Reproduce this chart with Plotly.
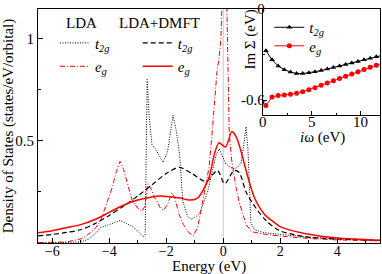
import plotly.graph_objects as go

# ---- main panel data: density of states ----
E_lda_t2g = [-6.5, -5.0, -4.7, -4.5, -4.3, -4.0, -3.8, -3.62, -3.4, -3.16, -2.95, -2.8, -2.74, -2.71, -2.67,
             -2.6, -2.5, -2.4, -2.29, -2.11, -1.95, -1.85, -1.76, -1.65, -1.53, -1.42, -1.25, -1.12, -0.95,
             -0.83, -0.7, -0.55, -0.37, -0.25, -0.14, -0.02, 0.09, 0.25, 0.38, 0.5, 0.62, 0.72, 0.8, 0.87,
             0.92, 0.97, 1.1, 1.4, 1.72, 2.3, 2.88, 4.0, 5.5]
dos_lda_t2g = [0.0, 0.005, 0.02, 0.045, 0.075, 0.09, 0.10, 0.11, 0.095, 0.08, 0.05, 0.03, 0.04, 0.3, 0.8,
               0.62, 0.48, 0.465, 0.44, 0.395, 0.45, 0.55, 0.625, 0.55, 0.43, 0.205, 0.13, 0.117, 0.13,
               0.145, 0.19, 0.25, 0.36, 0.43, 0.46, 0.42, 0.387, 0.37, 0.363, 0.37, 0.39, 0.48, 0.57, 0.45,
               0.24, 0.10, 0.065, 0.052, 0.046, 0.037, 0.03, 0.02, 0.012]

E_lda_eg = [-6.5, -5.5, -5.0, -4.8, -4.5, -4.3, -4.1, -3.9, -3.75, -3.62, -3.5, -3.38, -3.2, -3.0, -2.85,
            -2.75, -2.65, -2.55, -2.4, -2.2, -2.1, -1.95, -1.8, -1.7, -1.55, -1.4, -1.2, -1.05, -0.9, -0.75,
            -0.6, -0.5, -0.4, -0.3, -0.22, -0.15, -0.08, -0.02, 0.05, 0.12, 0.17, 0.21, 0.3, 0.45, 0.56,
            0.7, 0.8, 1.0, 1.5, 2.0, 3.0, 4.0, 5.5]
dos_lda_eg = [0.002, 0.005, 0.02, 0.035, 0.07, 0.11, 0.19, 0.27, 0.35, 0.40, 0.36, 0.30, 0.21, 0.17, 0.155,
              0.18, 0.29, 0.27, 0.22, 0.17, 0.16, 0.19, 0.245, 0.22, 0.14, 0.09, 0.05, 0.035, 0.075, 0.18,
              0.29, 0.37, 0.52, 0.68, 0.84, 0.9, 1.0, 1.3, 1.5, 1.2, 0.8, 0.54, 0.40, 0.27, 0.20,
              0.13, 0.09, 0.055, 0.042, 0.034, 0.022, 0.015, 0.01]

E_dmft_t2g = [-6.5, -6.0, -5.5, -5.0, -4.5, -4.0, -3.5, -3.0, -2.5, -2.0, -1.55, -1.1, -0.6, -0.4, -0.2,
              0.05, 0.38, 0.56, 0.8, 1.15, 1.5, 1.95, 2.9, 4.0, 5.5]
dos_dmft_t2g = [0.035, 0.042, 0.052, 0.065, 0.095, 0.135, 0.18, 0.23, 0.285, 0.34, 0.37, 0.34, 0.30, 0.33,
                0.355, 0.29, 0.355, 0.345, 0.25, 0.17, 0.11, 0.062, 0.03, 0.02, 0.013]

E_dmft_eg = [-6.5, -6.0, -5.5, -5.0, -4.5, -4.0, -3.5, -3.0, -2.5, -2.2, -1.8, -1.5, -1.2, -0.9, -0.7, -0.5,
             -0.3, -0.15, 0.08, 0.3, 0.45, 0.6, 0.85, 1.1, 1.45, 1.75, 2.0, 2.9, 4.0, 5.5]
dos_dmft_eg = [0.05, 0.06, 0.075, 0.09, 0.115, 0.15, 0.185, 0.21, 0.225, 0.23, 0.225, 0.22, 0.21, 0.22, 0.26,
               0.32, 0.44, 0.49, 0.47, 0.545, 0.52, 0.46, 0.33, 0.22, 0.14, 0.105, 0.08, 0.045, 0.025, 0.014]

# ---- inset data: Im Sigma on Matsubara axis ----
iw = [0.314, 0.942, 1.571, 2.199, 2.827, 3.456, 4.084, 4.712, 5.341, 5.969, 6.597, 7.226, 7.854, 8.482,
      9.111, 9.739, 10.367, 10.996, 11.624, 12.252]
sig_t2g = [-0.275, -0.335, -0.375, -0.40, -0.415, -0.425, -0.425, -0.42, -0.413, -0.405, -0.395, -0.385,
           -0.375, -0.365, -0.355, -0.345, -0.335, -0.325, -0.315, -0.305]
sig_eg = [-0.635, -0.58, -0.57, -0.566, -0.562, -0.555, -0.545, -0.532, -0.518, -0.503, -0.488, -0.473,
          -0.458, -0.443, -0.428, -0.413, -0.398, -0.383, -0.37, -0.357]

xticks_main = [-6, -4, -2, 0, 2, 4]
yticks_main = [0, 0.5, 1]
yticklabels_main = ["", "0.5", "1"]

FONT = "Liberation Serif"
RED = "#ff0000"

# plot-area geometry (pixels) used to place titles and legends
L, R, T, B = 38, 1, 3, 31
W_PLOT = 382 - L - R
H_PLOT = 274 - T - B


def px_x(px):
    return (px - L) / W_PLOT


def px_y(py):
    return (274 - B - py) / H_PLOT


fig = go.Figure()

# Fermi level line
fig.add_shape(type="line", x0=0, x1=0, y0=0, y1=1, xref="x", yref="paper",
              line=dict(color="#c8c8c8", width=1), layer="below")

T2G = "<i>t<sub>2g</sub></i>"
EG = "<i>e<sub>g</sub></i>"

fig.add_trace(go.Scatter(x=E_lda_t2g, y=dos_lda_t2g, mode="lines", name=T2G,
                         line=dict(color="black", width=1, dash="1px,1.5px"), legend="legend"))
fig.add_trace(go.Scatter(x=E_lda_eg, y=dos_lda_eg, mode="lines", name=EG,
                         line=dict(color=RED, width=1, dash="5px,2px,1px,2px"), legend="legend2"))
fig.add_trace(go.Scatter(x=E_dmft_t2g, y=dos_dmft_t2g, mode="lines", name=T2G,
                         line=dict(color="black", width=1.2, dash="5px,3px", shape="spline", smoothing=0.8),
                         legend="legend3"))
fig.add_trace(go.Scatter(x=E_dmft_eg, y=dos_dmft_eg, mode="lines", name=EG,
                         line=dict(color=RED, width=1.5, shape="spline", smoothing=0.8), legend="legend4"))

fig.add_trace(go.Scatter(x=iw, y=sig_t2g, mode="lines+markers", name=T2G,
                         xaxis="x2", yaxis="y2", line=dict(color="black", width=1),
                         marker=dict(symbol="triangle-up", size=5, color="black"), legend="legend5"))
fig.add_trace(go.Scatter(x=iw, y=sig_eg, mode="lines+markers", name=EG,
                         xaxis="x2", yaxis="y2", line=dict(color=RED, width=1),
                         marker=dict(symbol="circle", size=5, color=RED), legend="legend6"))

axis_common = dict(showline=True, linecolor="black", linewidth=1, mirror=True, ticks="inside",
                   tickcolor="black", showgrid=False, zeroline=False, ticklabeloverflow="allow")


def tfont(size):
    return dict(family=FONT, size=size, color="black")


def leg(xpx, ypx):
    return dict(x=px_x(xpx), y=px_y(ypx), xanchor="left", yanchor="middle",
                bgcolor="rgba(0,0,0,0)", borderwidth=0, itemwidth=30, font=tfont(15))


fig.update_layout(
    width=382, height=274,
    margin=dict(l=L, r=R, t=T, b=B),
    paper_bgcolor="white", plot_bgcolor="white",
    showlegend=True,
    font=tfont(15),
    xaxis=dict(range=[-6.5, 5.5], tickvals=xticks_main, ticklen=5, ticklabelstandoff=-5,
               tickfont=tfont(14),
               minor=dict(dtick=1, ticklen=3, ticks="inside", tickcolor="black"),
               **axis_common),
    yaxis=dict(range=[0, 1.145], tickvals=yticks_main, ticktext=yticklabels_main, ticklen=5,
               tickfont=tfont(15),
               minor=dict(tickvals=[0.25, 0.75], ticklen=3, ticks="inside", tickcolor="black"),
               title=dict(text="Density of States (states/eV/orbital)", font=tfont(15), standoff=3),
               **axis_common),
    xaxis2=dict(domain=[px_x(263.5), 1.0], anchor="y2", range=[0, 12.0], tickvals=[0, 5, 10], ticklen=4,
                ticklabelstandoff=-7, tickfont=tfont(15),
                minor=dict(tickvals=[2.5, 7.5], ticklen=2, ticks="inside", tickcolor="black"),
                **axis_common),
    yaxis2=dict(domain=[px_y(112), 1.0], anchor="x2", range=[-0.7, 0], tickvals=[0, -0.6],
                ticktext=["0", "-0.6"], ticklen=4, ticklabelstandoff=-6, tickfont=tfont(15),
                minor=dict(tickvals=[-0.3], ticklen=2, ticks="inside", tickcolor="black"),
                **axis_common),
    legend=leg(55, 38),
    legend2=leg(55, 62),
    legend3=leg(138, 38),
    legend4=leg(138, 62),
    legend5=leg(270, 22),
    legend6=leg(270, 41),
    annotations=[
        dict(text="LDA", x=px_x(82), y=px_y(17), xref="paper", yref="paper", showarrow=False,
             xanchor="center", yanchor="middle", font=tfont(15)),
        dict(text="LDA+DMFT", x=px_x(160), y=px_y(17), xref="paper", yref="paper", showarrow=False,
             xanchor="center", yanchor="middle", font=tfont(15)),
        dict(text="Energy (eV)", x=0.5, y=px_y(267), xref="paper", yref="paper", showarrow=False,
             xanchor="center", yanchor="middle", font=tfont(15)),
        dict(text="Im Σ (eV)", x=px_x(251), y=px_y(34), xref="paper", yref="paper", showarrow=False,
             textangle=-90, xanchor="center", yanchor="middle", font=tfont(15)),
        dict(text="<i>i</i>ω (eV)", x=px_x(323), y=px_y(135), xref="paper", yref="paper",
             showarrow=False, xanchor="center", yanchor="middle", font=tfont(15)),
    ],
)
fig.write_html("out.html", config={"displayModeBar": False},
               post_script="document.body.style.margin='0px';")
